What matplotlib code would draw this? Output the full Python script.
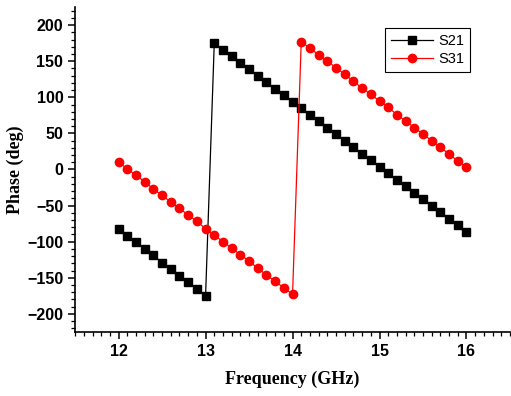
import matplotlib
matplotlib.use("Agg")
import matplotlib.pyplot as plt
from matplotlib.ticker import MultipleLocator

freq = [12.0, 12.1, 12.2, 12.3, 12.4, 12.5, 12.6, 12.7, 12.8, 12.9,
        13.0, 13.1, 13.2, 13.3, 13.4, 13.5, 13.6, 13.7, 13.8, 13.9,
        14.0, 14.1, 14.2, 14.3, 14.4, 14.5, 14.6, 14.7, 14.8, 14.9,
        15.0, 15.1, 15.2, 15.3, 15.4, 15.5, 15.6, 15.7, 15.8, 15.9, 16.0]

s21 = [-83, -92, -101, -110, -119, -129, -138, -147, -156, -165,
       -175, 175, 166, 157, 148, 139, 130, 121, 112, 103,
       94, 85, 76, 67, 58, 49, 40, 31, 22, 13,
       4, -5, -14, -23, -32, -41, -50, -59, -68, -77, -86]

s31 = [10, 1, -8, -17, -27, -36, -45, -54, -63, -72,
       -82, -91, -100, -109, -118, -127, -137, -146, -155, -164,
       -173, 177, 168, 159, 150, 141, 132, 122, 113, 104,
       95, 86, 76, 67, 58, 49, 40, 31, 21, 12, 3]

fig = plt.figure(figsize=(5.11, 3.96), dpi=100)
ax = fig.add_axes([0.147, 0.162, 0.851, 0.82])

ax.plot(freq, s21, color='black', marker='s', markersize=5.5, linewidth=0.9, label='S21')
ax.plot(freq, s31, color='red', marker='o', markersize=6, linewidth=0.9, label='S31')

ax.set_xlim(11.5, 16.5)
ax.set_ylim(-225, 225)
ax.xaxis.set_major_locator(MultipleLocator(1))
ax.xaxis.set_minor_locator(MultipleLocator(0.1))
ax.yaxis.set_major_locator(MultipleLocator(50))
ax.yaxis.set_minor_locator(MultipleLocator(10))

ax.spines['top'].set_visible(False)
ax.spines['right'].set_visible(False)
for s in ['left', 'bottom']:
    ax.spines[s].set_linewidth(1.2)
ax.tick_params(which='major', direction='out', length=5, width=1.1)
ax.tick_params(which='minor', direction='out', length=3, width=0.9)

for lab in ax.get_xticklabels() + ax.get_yticklabels():
    lab.set_fontfamily('Liberation Sans')
    lab.set_fontweight('bold')
    lab.set_fontsize(11.5)

ax.set_xlabel('Frequency (GHz)', fontfamily='Liberation Serif', fontweight='bold', fontsize=13, labelpad=9)
ax.set_ylabel('Phase (deg)', fontfamily='Liberation Serif', fontweight='bold', fontsize=13, labelpad=2)

leg = ax.legend(loc='upper right', bbox_to_anchor=(0.908, 0.935), prop={'family': 'Liberation Sans', 'size': 10.5},
                fancybox=False, edgecolor='black', framealpha=1, handlelength=2.9, borderpad=0.4,
                labelspacing=0.3, handletextpad=0.35, borderaxespad=0)
leg.get_frame().set_linewidth(0.8)

fig.savefig('out.png', dpi=100)
